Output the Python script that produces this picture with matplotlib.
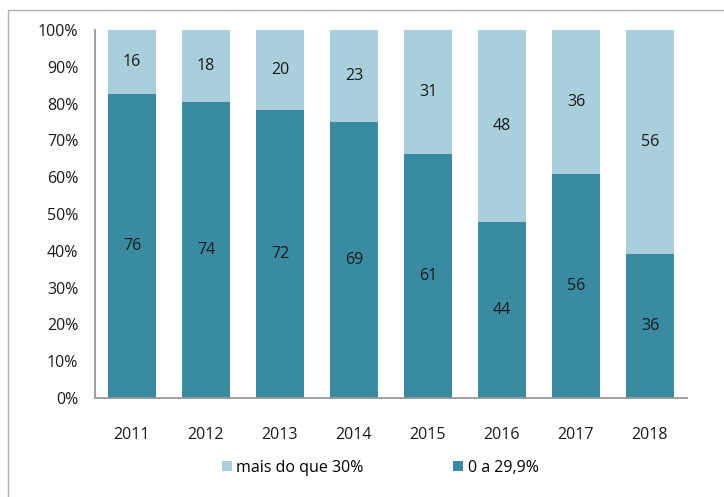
import matplotlib.pyplot as plt
import numpy as np
from matplotlib.patches import Rectangle

years = ["2011", "2012", "2013", "2014", "2015", "2016", "2017", "2018"]
low_share = [76, 74, 72, 69, 61, 44, 56, 36]      # 0 a 29,9%
high_share = [16, 18, 20, 23, 31, 48, 36, 56]     # mais do que 30%

dark = "#3a8ba1"
light = "#a9cfdd"
txt = "#1a1a1a"
fs = 11.5
plt.rcParams["font.family"] = ["Open Sans", "DejaVu Sans"]

low = np.array(low_share, dtype=float)
high = np.array(high_share, dtype=float)
total = low + high
low_pct = low / total * 100
high_pct = high / total * 100

fig = plt.figure(figsize=(7.24, 4.97), dpi=100)
fig.patches.append(Rectangle((8 / 724, -0.01), 1.0, 1 - 10 / 497 + 0.01, transform=fig.transFigure,
                             fill=False, edgecolor="#b0b0b0", linewidth=1.0))
ax = fig.add_axes([95 / 724, 1 - 398 / 497, 592 / 724, 368 / 497])

x = np.arange(len(years))
ax.bar(x, low_pct, width=0.64, color=dark, label="0 a 29,9%")
ax.bar(x, high_pct, width=0.64, bottom=low_pct, color=light, label="mais do que 30%")

for i in range(len(years)):
    ax.text(x[i], low_pct[i] / 2, str(low_share[i]), ha="center", va="center", fontsize=fs, color=txt)
    ax.text(x[i], low_pct[i] + high_pct[i] / 2, str(high_share[i]), ha="center", va="center", fontsize=fs, color=txt)

ax.set_xlim(-0.5, len(years) - 0.5)
ax.set_ylim(0, 100)
ax.set_yticks(np.arange(0, 101, 10))
ax.set_yticklabels([f"{v}%" for v in range(0, 101, 10)])
ax.set_xticks(x)
ax.set_xticklabels(years)
ax.tick_params(axis="both", length=0, labelsize=fs, colors=txt)
ax.tick_params(axis="y", pad=12)
ax.tick_params(axis="x", pad=21)
for side in ["top", "right"]:
    ax.spines[side].set_visible(False)
for side in ["left", "bottom"]:
    ax.spines[side].set_color("#999999")
    ax.spines[side].set_linewidth(1.3)

handles, labels = ax.get_legend_handles_labels()
fig.legend(handles[::-1], labels[::-1], loc="center left", bbox_to_anchor=(214 / 724, 1 - 468 / 497), ncol=2,
           frameon=False, fontsize=fs, handlelength=0.6, handleheight=0.6, handletextpad=0.3,
           columnspacing=5.6, borderpad=0)

fig.savefig("out.png", dpi=100)
plt.close(fig)
